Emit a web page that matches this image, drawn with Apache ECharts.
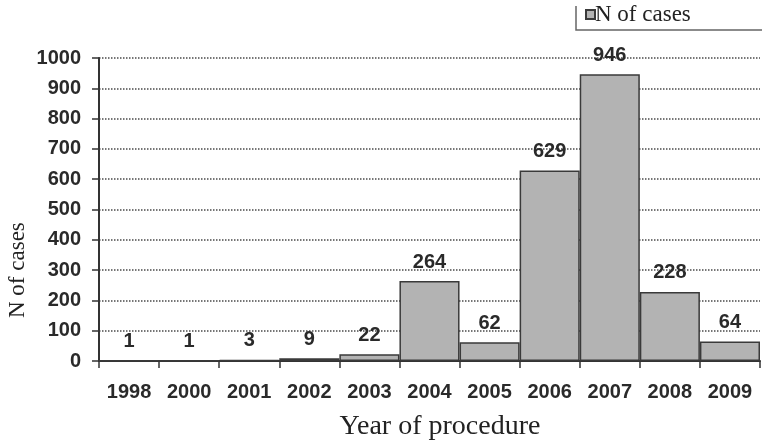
<!DOCTYPE html>
<html>
<head>
<meta charset="utf-8">
<script src="https://cdn.jsdelivr.net/npm/echarts@6/dist/echarts.min.js"></script>
<style>
  html, body { margin: 0; padding: 0; background: #fff; }
  #chart { width: 771px; height: 442px; }
</style>
</head>
<body>
<div id="chart"></div>
<script>
var years = ['1998', '2000', '2001', '2002', '2003', '2004', '2005', '2006', '2007', '2008', '2009'];
var cases = [1, 1, 3, 9, 22, 264, 62, 629, 946, 228, 64];
var yTicks = { min: 0, max: 1000, step: 100 };

var myChart = echarts.init(document.getElementById('chart'));
var option = {
    backgroundColor: '#fff',
    animation: false,
    grid: {
        left: 99,
        right: 11,
        top: 58,
        bottom: 81
    },
    legend: {
        left: 580,
        top: -2,
        itemWidth: 9,
        itemHeight: 9,
        icon: 'rect',
        textStyle: {
            fontFamily: 'Liberation Serif',
            fontSize: 23,
            color: '#222',
            padding: [0, 0, 0, -5]
        },
        data: ['N of cases']
    },
    xAxis: {
        type: 'category',
        data: years,
        axisLine: { lineStyle: { color: '#333', width: 2 } },
        axisTick: { show: true, length: 7, lineStyle: { color: '#333', width: 1.5 } },
        axisLabel: {
            margin: 21,
            fontFamily: 'Liberation Sans',
            fontWeight: 'bold',
            fontSize: 20,
            color: '#2a2a2a'
        }
    },
    yAxis: {
        type: 'value',
        min: yTicks.min,
        max: yTicks.max,
        interval: yTicks.step,
        axisLine: { show: true, lineStyle: { color: '#333', width: 2 } },
        axisTick: { show: true, length: 7, lineStyle: { color: '#333', width: 1.5 } },
        axisLabel: {
            margin: 18,
            fontFamily: 'Liberation Sans',
            fontWeight: 'bold',
            fontSize: 20,
            color: '#2a2a2a',
            formatter: function (v) { return String(v); }
        },
        splitLine: {
            show: true,
            lineStyle: { color: '#4a4a4a', width: 1.5, type: 'dotted' }
        }
    },
    graphic: [
        {
            type: 'text',
            x: 6,
            y: 318,
            rotation: Math.PI / 2,
            style: {
                text: 'N of cases',
                fontFamily: 'Liberation Serif',
                fontSize: 23,
                fill: '#222'
            }
        },
        {
            type: 'text',
            style: {
                text: 'Year of procedure',
                x: 440,
                y: 427,
                align: 'center',
                verticalAlign: 'middle',
                fontFamily: 'Liberation Serif',
                fontSize: 28,
                fill: '#222'
            }
        },
        {
            type: 'polyline',
            shape: { points: [[576, 6], [576, 30], [762, 30]] },
            style: { stroke: '#666', lineWidth: 1.5, fill: null }
        }
    ],
    series: [{
        name: 'N of cases',
        type: 'bar',
        data: cases,
        barCategoryGap: '0%',
        itemStyle: {
            color: '#b3b3b3',
            borderColor: '#3a3a3a',
            borderWidth: 1.5
        },
        label: {
            show: true,
            position: 'top',
            distance: 9,
            fontFamily: 'Liberation Sans',
            fontWeight: 'bold',
            fontSize: 20,
            color: '#2a2a2a'
        }
    }]
};
myChart.setOption(option);
</script>
</body>
</html>
